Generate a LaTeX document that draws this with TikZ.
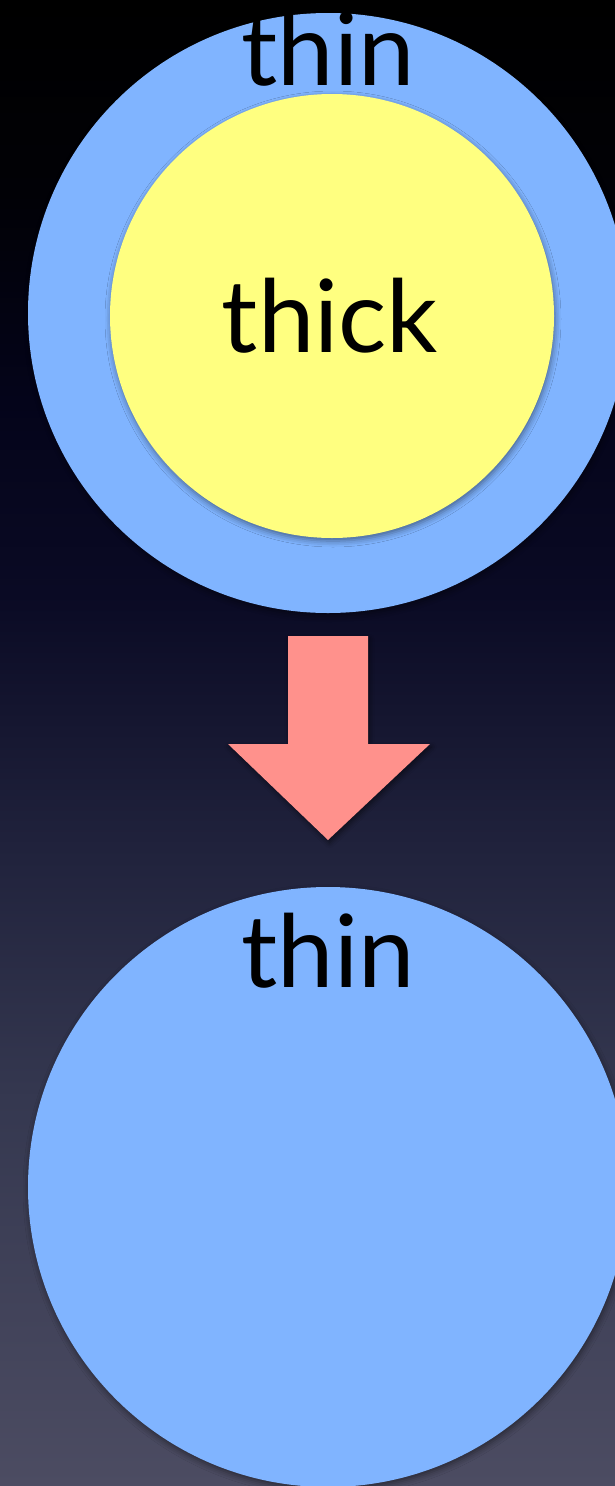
\documentclass[tikz,border=0pt]{standalone}
\usepackage{fontspec}
\setmainfont{Lato}
\usetikzlibrary{shadows.blur}

\definecolor{skyA}{RGB}{76,76,98}
\definecolor{skyB}{RGB}{53,56,80}
\definecolor{skyC}{RGB}{32,34,60}
\definecolor{skyD}{RGB}{10,10,36}
\definecolor{skyE}{RGB}{4,4,26}
\definecolor{skyF}{RGB}{1,1,6}
\definecolor{skyG}{RGB}{0,0,0}
\definecolor{diskblue}{RGB}{128,180,255}
\definecolor{diskyellow}{RGB}{255,255,128}
\definecolor{arrowpink}{RGB}{255,145,140}

% night-sky backdrop: black at the top, slate grey at the bottom
% (a filled path spans the 25bp--75bp band of the shading)
\pgfdeclareverticalshading{nightsky}{100bp}{%
  color(0bp)=(skyA); color(25bp)=(skyA); color(38bp)=(skyB);
  color(46.5bp)=(skyC); color(55bp)=(skyD); color(61.5bp)=(skyE);
  color(68.5bp)=(skyF); color(75bp)=(skyG); color(100bp)=(skyG)}

\tikzset{
  disk/.style={circle, inner sep=0pt, draw=none,
    blur shadow={shadow xshift=1pt, shadow yshift=-3pt,
                 shadow blur radius=6pt, shadow opacity=45}},
  outerdisk/.style={disk, fill=diskblue, minimum size=600pt},
  innerdisk/.style={disk, fill=diskyellow, minimum size=444pt},
  caption/.style={anchor=base, font=\fontsize{101}{104}\selectfont, text=black, inner sep=0pt},
  bigarrow/.style={fill=arrowpink, draw=none,
    blur shadow={shadow xshift=1.5pt, shadow yshift=-3pt,
                 shadow blur radius=5pt, shadow opacity=50}}
}

\begin{document}
\begin{tikzpicture}[x=1pt, y=-1pt]
  \useasboundingbox (0,0) rectangle (615,1486);
  \shade[shading=nightsky] (0,0) rectangle (615,1486);
  \clip (0,0) rectangle (615,1486);

  % upper pair of nested disks
  \node[outerdisk] (outerTop) at (328,313) {};
  \node[innerdisk] (inner) at (332,316) {};
  \node[caption] (thinTop) at (328,85) {thin};
  \node[caption] (thick) at (330,352) {thick};

  % downward block arrow
  \coordinate (arrTop) at (328,636);
  \coordinate (arrTip) at (328,840);
  \path[bigarrow] (288,636) -- (368,636) -- (368,744) -- (430,744)
        -- (arrTip) -- (228,744) -- (288,744) -- cycle;

  % lower single disk
  \node[outerdisk] (outerBottom) at (328,1187) {};
  \node[caption] (thinBottom) at (328,987) {thin};
\end{tikzpicture}
\end{document}
